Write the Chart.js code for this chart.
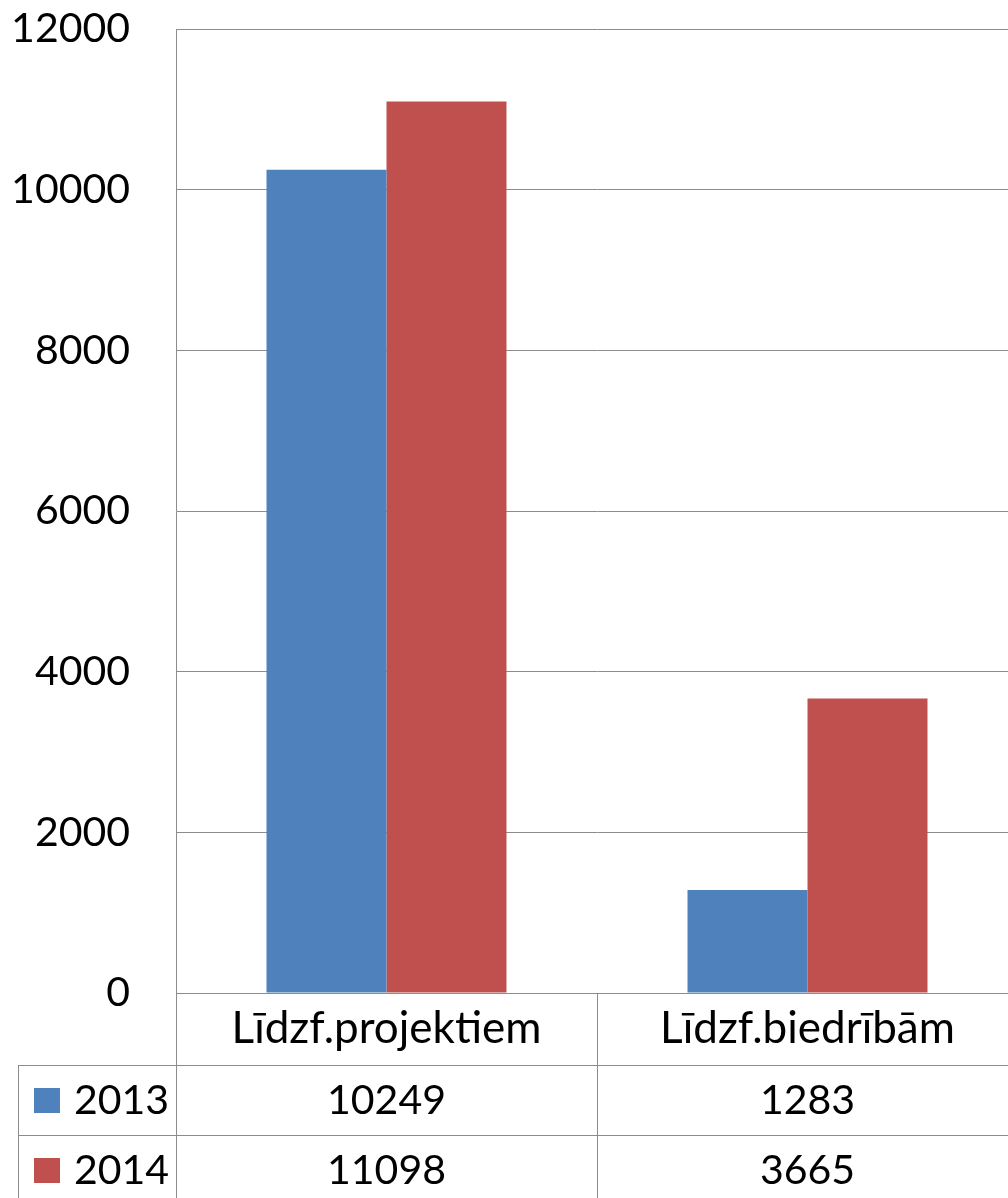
<!DOCTYPE html>
<html>
<head>
<meta charset="utf-8">
<script src="https://cdn.jsdelivr.net/npm/chart.js@4/dist/chart.umd.min.js"></script>
<style>
  html, body { margin: 0; padding: 0; background: #fff; overflow: hidden; }
  #wrap { position: absolute; left: 0; top: 0; width: 1018px; height: 1198px; }
</style>
</head>
<body>
<div id="wrap"><canvas id="chartArea" width="1018" height="1198"></canvas></div>
<script>
// data
var categories = ['Līdzf.projektiem', 'Līdzf.biedrībām']
var seriesNames = ['2013', '2014']
var values2013 = [10249, 1283]
var values2014 = [11098, 3665]
var colors = ['#4F81BD', '#C0504D']

var fontFamily = 'Lato, "Open Sans", sans-serif'
var numSize = 41
var labelSize = 44
var gridColor = '#8c8c8c'

// data table under the plot (rows for each series)
var tablePlugin = {
  id: 'dataTable',
  afterDraw: function(chart){
    var ctx = chart.ctx
    var area = chart.chartArea
    var n = categories.length
    var colW = (area.right - area.left) / n
    var rowTop = [1065, 1135]
    var rowH = 70
    var leftEdge = 18
    var rows = [values2013, values2014]

    ctx.save()
    ctx.strokeStyle = gridColor
    ctx.lineWidth = 1
    ctx.beginPath()
    for(var i = 0; i <= n; i++){
      var x = Math.round(area.left + i * colW) + 0.5
      ctx.moveTo(x, area.bottom)
      ctx.lineTo(x, chart.height)
    }
    ctx.moveTo(leftEdge + 0.5, rowTop[0])
    ctx.lineTo(leftEdge + 0.5, chart.height)
    for(var r = 0; r < rowTop.length; r++){
      ctx.moveTo(leftEdge, rowTop[r] + 0.5)
      ctx.lineTo(area.right, rowTop[r] + 0.5)
    }
    ctx.stroke()

    ctx.font = numSize + 'px ' + fontFamily
    ctx.textBaseline = 'middle'
    for(var r = 0; r < rows.length; r++){
      var cy = rowTop[r] + rowH / 2
      ctx.fillStyle = colors[r]
      ctx.fillRect(34, Math.round(cy - 12), 26, 25)
      ctx.fillStyle = '#000'
      ctx.textAlign = 'left'
      ctx.fillText(seriesNames[r], 74, cy + 1)
      ctx.textAlign = 'center'
      for(var c = 0; c < n; c++){
        ctx.fillText(String(rows[r][c]), area.left + (c + 0.5) * colW, cy + 1)
      }
    }
    ctx.restore()
  }
}

var ctx = document.getElementById('chartArea').getContext('2d')
var myChart = new Chart(ctx, {
  type: 'bar',
  data: {
    labels: categories,
    datasets: [
      { label: seriesNames[0], data: values2013, backgroundColor: colors[0] },
      { label: seriesNames[1], data: values2014, backgroundColor: colors[1] }
    ]
  },
  options: {
    responsive: false,
    animation: false,
    layout: { padding: { top: 29, right: 0, bottom: 0, left: 0 } },
    datasets: {
      bar: { categoryPercentage: 0.57, barPercentage: 1.0 }
    },
    plugins: {
      legend: { display: false },
      tooltip: { enabled: false }
    },
    scales: {
      x: {
        grid: { display: false, drawTicks: false },
        border: { display: true, color: gridColor, width: 1 },
        ticks: {
          color: '#000',
          padding: 9,
          maxRotation: 0,
          font: { family: fontFamily, size: labelSize }
        },
        afterFit: function(scale){ scale.height = 205 }
      },
      y: {
        min: 0,
        max: 12000,
        // invisible tick marks keep the labels away from the axis
        grid: { color: gridColor, lineWidth: 1, drawTicks: true, tickLength: 46, tickColor: 'rgba(0,0,0,0)' },
        border: { display: true, color: gridColor, width: 1 },
        ticks: {
          stepSize: 2000,
          color: '#000',
          padding: 0,
          font: { family: fontFamily, size: numSize, lineHeight: 1 },
          callback: function(v){ return String(v) }
        },
        afterFit: function(scale){ scale.width = 176 }
      }
    }
  },
  plugins: [tablePlugin]
})
</script>
</body>
</html>
